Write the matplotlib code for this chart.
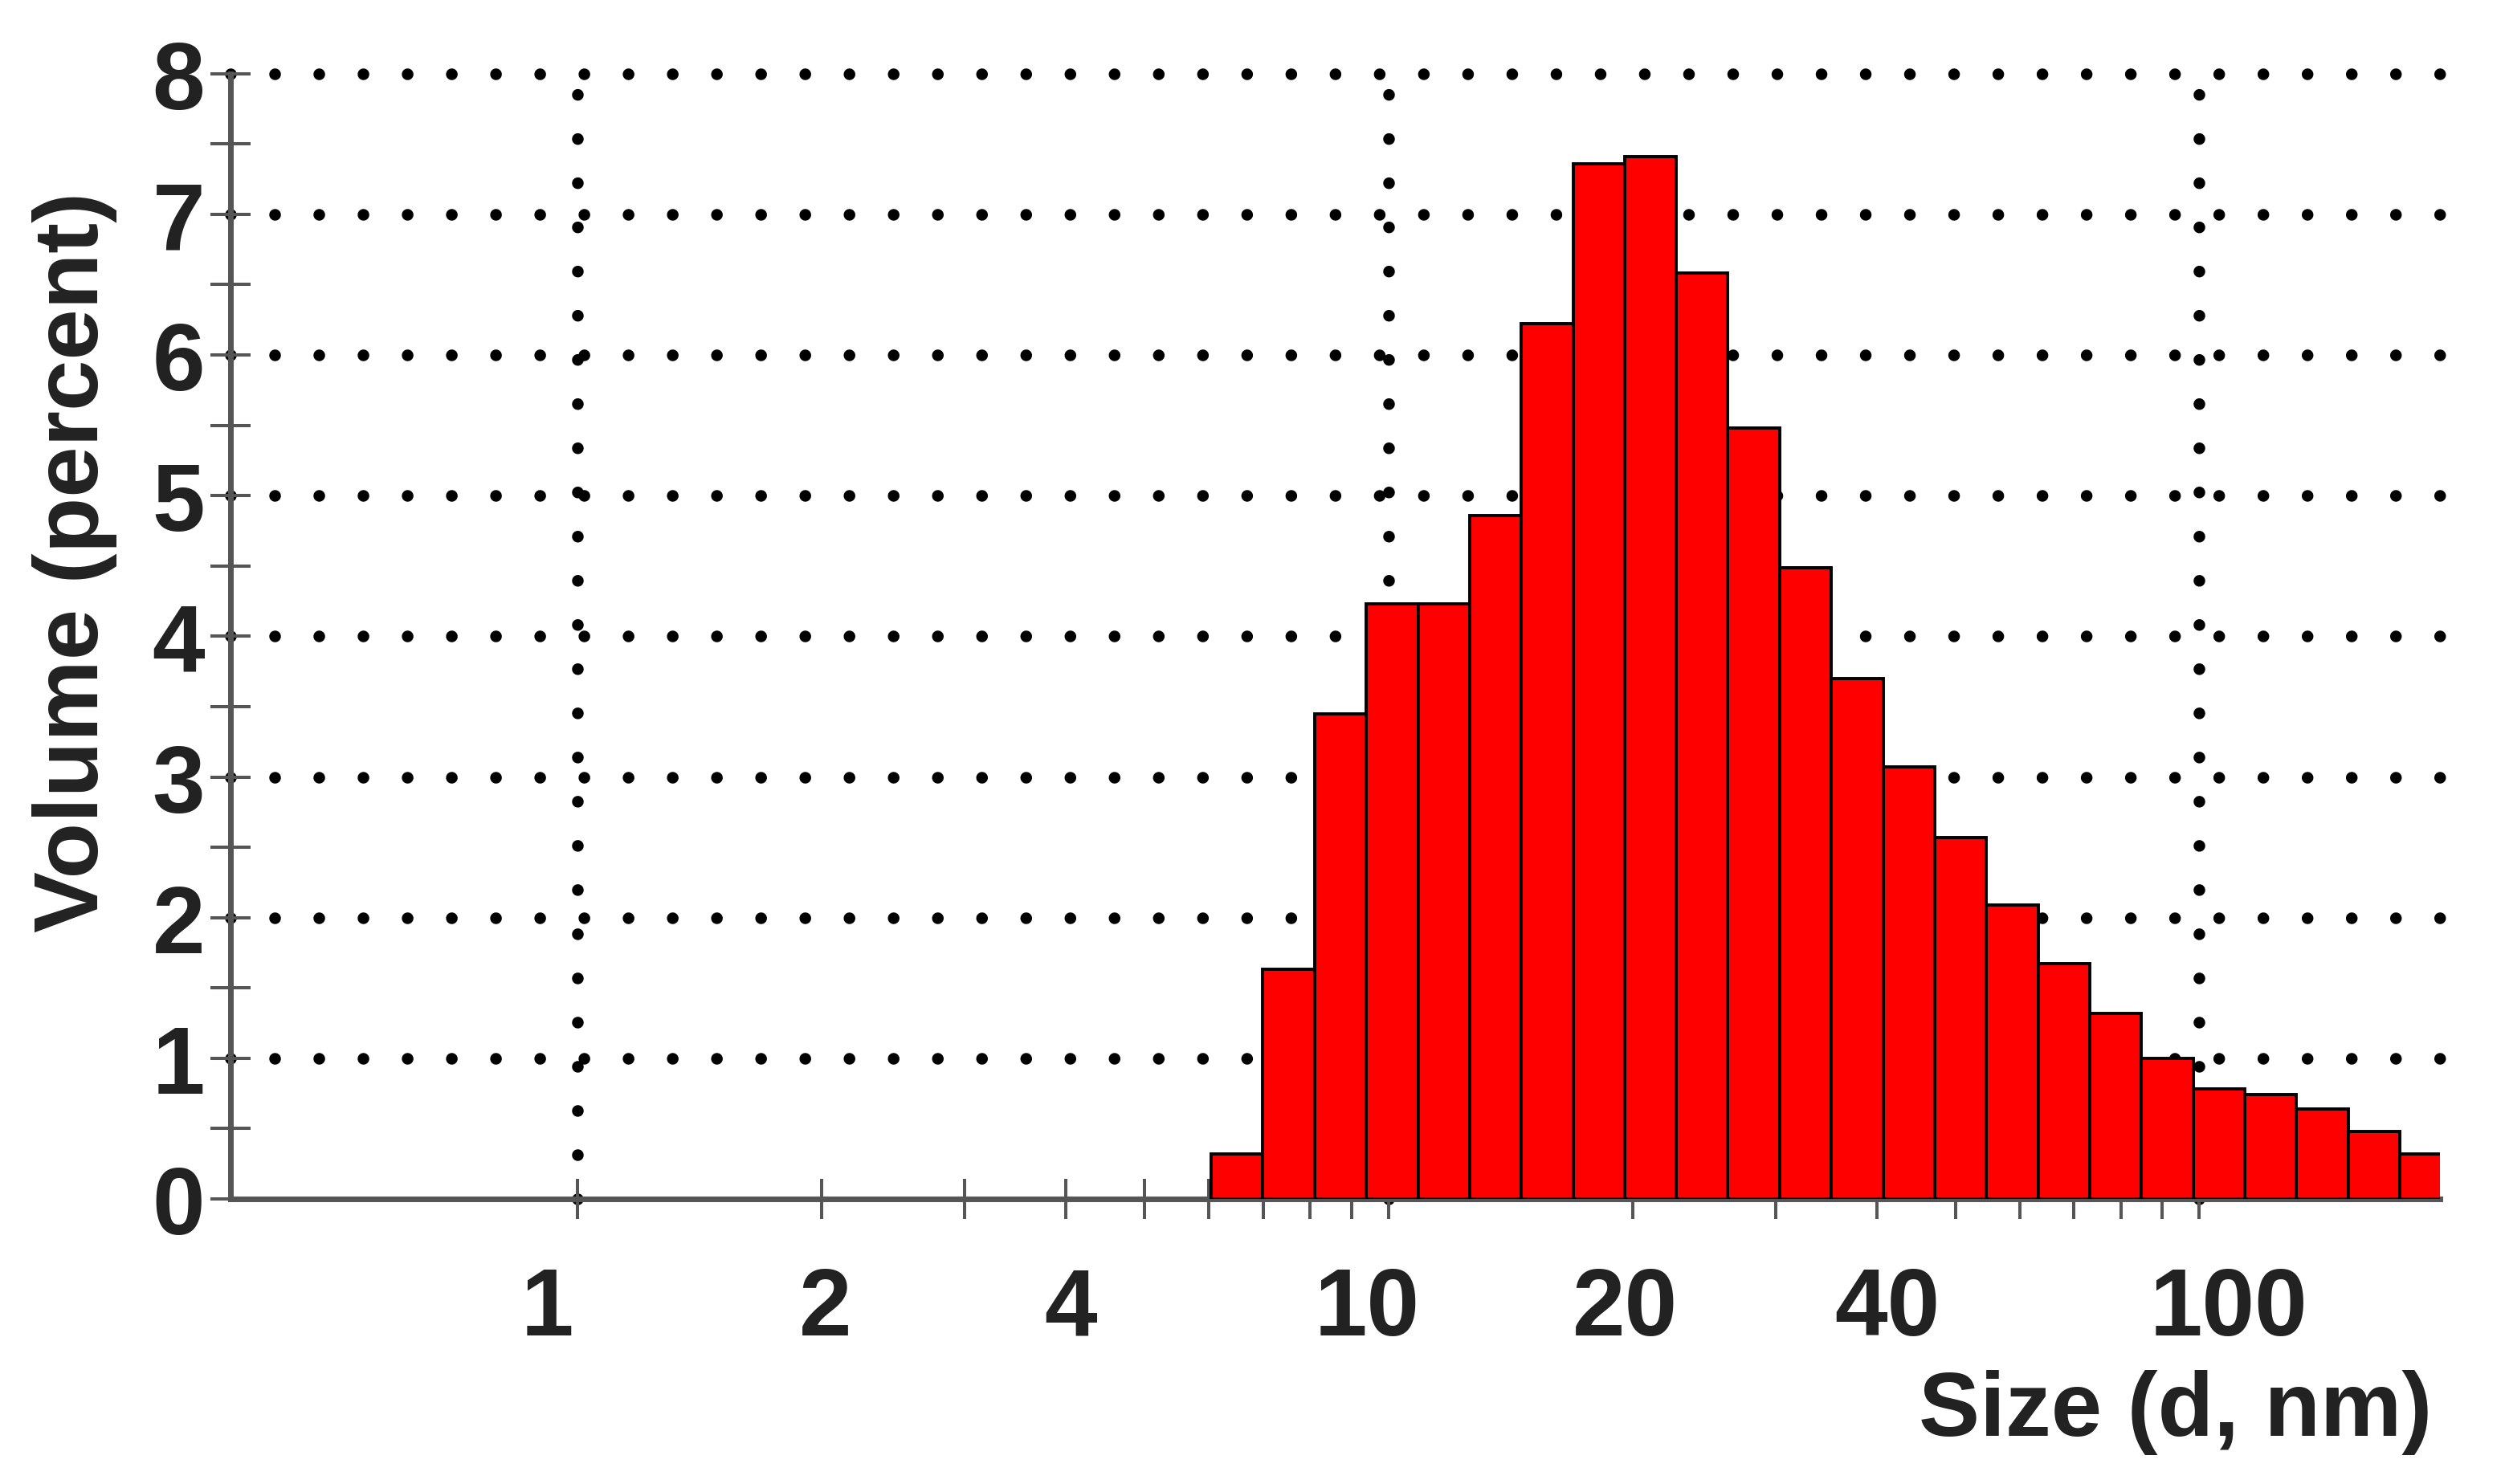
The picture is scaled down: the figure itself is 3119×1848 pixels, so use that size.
import matplotlib
matplotlib.use("Agg")
import matplotlib.pyplot as plt
import matplotlib.transforms as mtransforms
from matplotlib.ticker import FixedLocator, FixedFormatter, NullFormatter
import numpy as np

plt.rcParams['font.family'] = ['Liberation Sans', 'DejaVu Sans']
plt.rcParams['font.weight'] = 'bold'

# ---- data ----
sizes_nm = [6.503, 7.531, 8.721, 10.1, 11.7, 13.54, 15.69, 18.17, 21.04, 24.36,
            28.21, 32.67, 37.84, 43.82, 50.75, 58.77, 68.06, 78.82, 91.28,
            105.7, 122.4, 141.8, 164.2, 190.1]
volume_pct = [0.32, 1.63, 3.45, 4.23, 4.23, 4.86, 6.22, 7.36, 7.41, 6.58,
              5.48, 4.49, 3.70, 3.07, 2.57, 2.09, 1.67, 1.32, 1.00,
              0.78, 0.74, 0.64, 0.48, 0.32]
x_tick_values = [1, 2, 4, 10, 20, 40, 100]
x_tick_labels = ['1', '2', '4', '10', '20', '40', '100']
x_minor_values = [3, 5, 6, 7, 8, 9, 30, 50, 60, 70, 80, 90]
x_grid_values = [1, 10, 100]
y_tick_values = [0, 1, 2, 3, 4, 5, 6, 7, 8]
y_minor_values = [0.5, 1.5, 2.5, 3.5, 4.5, 5.5, 6.5, 7.5]
y_grid_values = [1, 2, 3, 4, 5, 6, 7, 8]

W, H = 3119, 1849
fig = plt.figure(figsize=(W / 100, H / 100), dpi=100)
ax_left, ax_right, ax_bottom, ax_top = 287, 3038, 1494, 92.7
ax = fig.add_axes([ax_left / W, (H - ax_bottom) / H,
                   (ax_right - ax_left) / W, (ax_bottom - ax_top) / H])

# bin edges (geometric midpoints of the log-spaced size classes)
s = np.array(sizes_nm)
ratio = np.sqrt(s[1:] / s[:-1])
left_edges = np.concatenate([[s[0] / ratio[0]], s[1:] / ratio])
right_edges = np.concatenate([s[:-1] * ratio, [s[-1] * ratio[-1]]])

ax.bar(left_edges, volume_pct, width=right_edges - left_edges, align='edge',
       color='#ff0000', edgecolor='black', linewidth=2.8, zorder=3)

# cyan baseline under bars
off = mtransforms.offset_copy(ax.transData, fig=fig, x=0, y=-6, units='dots')
ax.plot([left_edges[0], right_edges[-1]], [0, 0], color='#19e6e6', lw=2.5,
        transform=off, zorder=4, clip_on=True, solid_capstyle='butt')

ax.set_xscale('log')
ax.set_xlim(0.373, 198)
ax.set_ylim(0, 8)

dot_lw = 10.5
dot_style = (0, (0.001, 39.6 / dot_lw))
for gy in y_grid_values:
    ax.axhline(gy, color='black', lw=dot_lw, linestyle=dot_style,
               dash_capstyle='round', zorder=1, clip_on=False)
for gx in x_grid_values:
    ax.axvline(gx, color='black', lw=dot_lw, linestyle=dot_style,
               dash_capstyle='round', zorder=1, clip_on=False)

for side in ['top', 'right']:
    ax.spines[side].set_visible(False)
for side in ['left', 'bottom']:
    ax.spines[side].set_color('#555555')
    ax.spines[side].set_linewidth(5)
    ax.spines[side].set_zorder(2.5)

ax.xaxis.set_major_locator(FixedLocator(x_tick_values))
ax.xaxis.set_major_formatter(FixedFormatter(x_tick_labels))
ax.xaxis.set_minor_locator(FixedLocator(x_minor_values))
ax.xaxis.set_minor_formatter(NullFormatter())
ax.yaxis.set_major_locator(FixedLocator(y_tick_values))
ax.yaxis.set_minor_locator(FixedLocator(y_minor_values))
ax.yaxis.set_minor_formatter(NullFormatter())

tick_kw = dict(direction='inout', length=36, width=2.9, color='#555555')
ax.tick_params(axis='both', which='both', **tick_kw)
ax.tick_params(axis='x', which='major', pad=42, labelsize=85, labelcolor='#222222')
ax.tick_params(axis='y', which='major', pad=5, labelsize=85, labelcolor='#222222')

# small horizontal nudges of the x tick labels, as in the original
x_label_nudge_px = [-38, 4, 6, -27, -9, 13, 37]
for lab, dx in zip(ax.get_xticklabels(), x_label_nudge_px):
    lab.set_transform(lab.get_transform() +
                      mtransforms.ScaledTranslation(dx / 100, 0, fig.dpi_scale_trans))
    lab.set_fontweight('bold')
for lab in ax.get_yticklabels():
    lab.set_fontweight('bold')

ax.set_ylabel('Volume (percent)', fontsize=82, fontweight='bold', color='#222222')
ax.yaxis.set_label_coords((146 - ax_left) / (ax_right - ax_left),
                          (ax_bottom - 700) / (ax_bottom - ax_top))

fig.text(3028 / W, 1 - 1788 / H, 'Size (d, nm)', fontsize=82, fontweight='bold',
         color='#222222', ha='right', va='baseline')

fig.savefig('out.png', dpi=100, facecolor='white')
